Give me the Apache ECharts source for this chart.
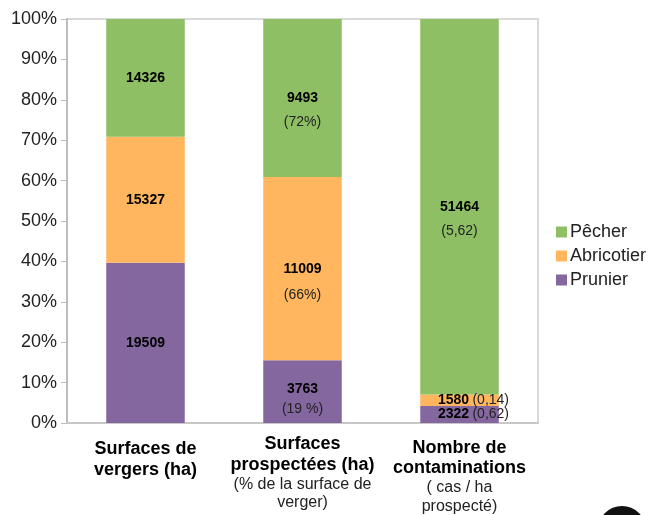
<!DOCTYPE html>
<html><head><meta charset="utf-8">
<script src="https://cdn.jsdelivr.net/npm/echarts@6/dist/echarts.min.js"></script>
<style>html,body{margin:0;padding:0;background:#fff}#c{width:651px;height:515px}</style>
</head><body><div id="c"></div>
<script>
var categories = ['Surfaces de vergers (ha)', 'Surfaces prospectées (ha)', 'Nombre de contaminations'];
var prunier = [19509, 3763, 2322];
var abricotier = [15327, 11009, 1580];
var pecher = [14326, 9493, 51464];
var notePrunier = ['', '(19 %)', '(0,62)'];
var noteAbricotier = ['', '(66%)', '(0,14)'];
var notePecher = ['', '(72%)', '(5,62)'];
var yTicks = [0, 10, 20, 30, 40, 50, 60, 70, 80, 90, 100];

var FONT = '"Liberation Sans", Arial, sans-serif';
var totals = categories.map(function (_, i) { return prunier[i] + abricotier[i] + pecher[i]; });

function share(arr, notes, layouts) {
  return arr.map(function (v, i) {
    var item = { value: v / totals[i] * 100, raw: v, note: notes[i] };
    if (layouts[i]) item.label = layouts[i];
    return item;
  });
}
var rich = {
  b: { fontFamily: FONT, fontWeight: 'bold', fontSize: 14, color: '#000' },
  p: { fontFamily: FONT, fontSize: 14, color: '#222' }
};
function below(lh, off) {
  return {
    formatter: function (p) { return '{b|' + p.data.raw + '}\n{p|' + p.data.note + '}'; },
    rich: {
      b: Object.assign({}, rich.b, { lineHeight: lh }),
      p: Object.assign({}, rich.p, { lineHeight: lh })
    },
    offset: [0, off]
  };
}
function side(off) {
  return {
    formatter: function (p) { return '{b|' + p.data.raw + '} {p|' + p.data.note + '}'; },
    rich: rich,
    offset: [off, 0]
  };
}
var baseLabel = {
  show: true, position: 'inside',
  formatter: function (p) { return '{b|' + p.data.raw + '}'; },
  rich: rich
};

var catRich = {
  g: { fontSize: 1, lineHeight: 5 },
  g3: { fontSize: 1, lineHeight: 4 },
  t: { fontFamily: FONT, fontWeight: 'bold', fontSize: 18, color: '#000', lineHeight: 21, align: 'center' },
  t3: { fontFamily: FONT, fontWeight: 'bold', fontSize: 18, color: '#000', lineHeight: 20, align: 'center' },
  s: { fontFamily: FONT, fontSize: 16, color: '#222', lineHeight: 19, align: 'center' },
  s2: { fontFamily: FONT, fontSize: 16, color: '#222', lineHeight: 18, align: 'center' }
};
var catLabels = [
  '{g| }\n{t|Surfaces de}\n{t|vergers (ha)}',
  '{t|Surfaces}\n{t|prospectées (ha)}\n{s2|(% de la surface de}\n{s2|verger)}',
  '{g3| }\n{t3|Nombre de}\n{t3|contaminations}\n{s|( cas / ha}\n{s|prospecté)}'
];

var chart = echarts.init(document.getElementById('c'));
chart.setOption({
  animation: false,
  grid: { left: 67, right: 113, top: 19, bottom: 92, show: true, borderColor: '#d9d9d9', borderWidth: 2,
          containLabel: false, outerBoundsMode: 'none' },
  legend: {
    orient: 'vertical', left: 551, top: 218,
    data: ['Pêcher', 'Abricotier', 'Prunier'],
    itemWidth: 11, itemHeight: 11, itemGap: 6, icon: 'rect',
    textStyle: { fontFamily: FONT, fontSize: 18, color: '#222', padding: [0, 0, 0, -2] }
  },
  xAxis: {
    type: 'category', data: categories,
    axisLine: { show: true, lineStyle: { color: '#c8c8c8', width: 2 } },
    axisTick: { show: false },
    axisLabel: {
      margin: 11, interval: 0,
      formatter: function (v, i) { return catLabels[i]; },
      rich: catRich
    }
  },
  yAxis: {
    type: 'value', min: 0, max: 100, interval: 10,
    splitLine: { show: false },
    axisLine: { show: true, lineStyle: { color: '#bdbdbd', width: 2 } },
    axisTick: { show: true, length: 6, lineStyle: { color: '#bdbdbd', width: 1 } },
    axisLabel: {
      margin: 10, fontFamily: FONT, fontSize: 18, color: '#222',
      customValues: yTicks,
      formatter: '{value}%'
    }
  },
  series: [
    { name: 'Prunier', type: 'bar', stack: 's', barWidth: '50%', itemStyle: { color: '#8567a0' },
      label: baseLabel, data: share(prunier, notePrunier, [null, below(20, 7), side(14)]) },
    { name: 'Abricotier', type: 'bar', stack: 's', itemStyle: { color: '#ffb65e' },
      label: baseLabel, data: share(abricotier, noteAbricotier, [null, below(26, 13), side(14)]) },
    { name: 'Pêcher', type: 'bar', stack: 's', itemStyle: { color: '#8fbf64' },
      label: baseLabel, data: share(pecher, notePecher, [null, below(24, 12), below(24, 12)]) }
  ],
  graphic: [
    { type: 'circle', shape: { cx: 622, cy: 530, r: 24 }, style: { fill: '#111' }, silent: true }
  ]
});
</script></body></html>
